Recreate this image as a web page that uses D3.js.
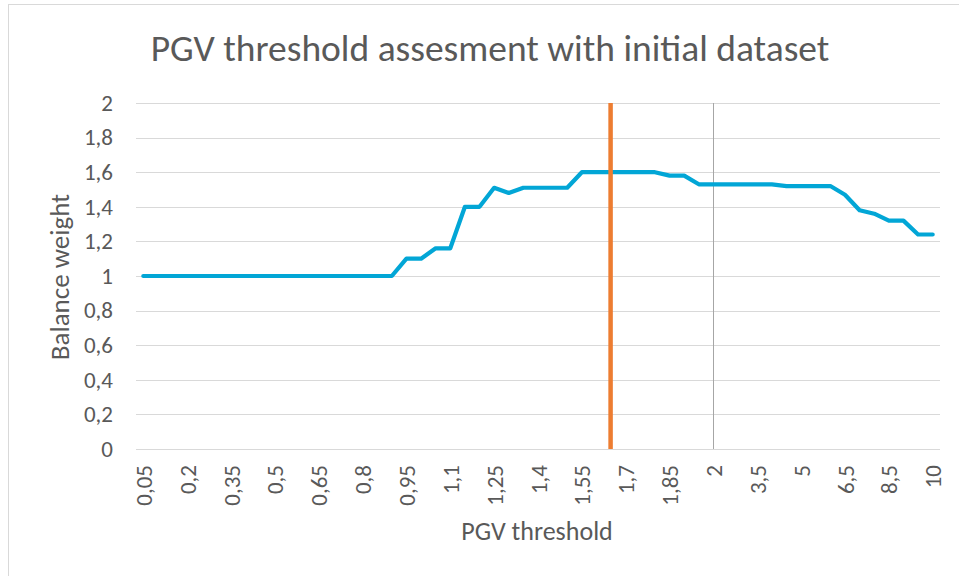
<!DOCTYPE html>
<html>
<head>
<meta charset="utf-8">
<script src="https://cdn.jsdelivr.net/npm/d3@7"></script>
<style>
  html, body { margin: 0; padding: 0; background: #fff; }
  svg { display: block; }
  text { font-family: Calibri, Carlito, Lato, "Open Sans", sans-serif; fill: #595959; }
</style>
</head>
<body>
<svg id="chart" width="959" height="576"></svg>
<script>
// PGV thresholds (categorical axis)
const thresholds = [
  0.05, 0.1, 0.15, 0.2, 0.25, 0.3, 0.35, 0.4, 0.45, 0.5,
  0.55, 0.6, 0.65, 0.7, 0.75, 0.8, 0.85, 0.9, 0.95, 1.0,
  1.05, 1.1, 1.15, 1.2, 1.25, 1.3, 1.35, 1.4, 1.45, 1.5,
  1.55, 1.6, 1.65, 1.7, 1.75, 1.8, 1.85, 1.9, 1.95, 2,
  2.5, 3, 3.5, 4, 4.5, 5, 5.5, 6, 6.5, 7,
  8, 8.5, 9, 9.5, 10
];
// Balance weight for each threshold
const balanceWeight = [
  1.00, 1.00, 1.00, 1.00, 1.00, 1.00, 1.00, 1.00, 1.00, 1.00,
  1.00, 1.00, 1.00, 1.00, 1.00, 1.00, 1.00, 1.00, 1.10, 1.10,
  1.16, 1.16, 1.40, 1.40, 1.51, 1.48, 1.51, 1.51, 1.51, 1.51,
  1.60, 1.60, 1.60, 1.60, 1.60, 1.60, 1.58, 1.58, 1.53, 1.53,
  1.53, 1.53, 1.53, 1.53, 1.52, 1.52, 1.52, 1.52, 1.47, 1.38,
  1.36, 1.32, 1.32, 1.24, 1.24
];
const yTicks = [0, 0.2, 0.4, 0.6, 0.8, 1, 1.2, 1.4, 1.6, 1.8, 2];
const xLabelEvery = 3;
// Reference markers on the threshold axis
const selectedThreshold = 1.65;
const referenceThreshold = 2;

const title = "PGV threshold assesment with initial dataset";
const xTitle = "PGV threshold";
const yTitle = "Balance weight";

const comma = v => String(v).replace(".", ",");
const FONT = "Calibri, Carlito, Lato, 'Open Sans', sans-serif";

const svg = d3.select("#chart");
const plot = { left: 136, right: 940, top: 103, bottom: 449 };

// Outer chart frame
svg.append("rect")
  .attr("x", 8.5).attr("y", 4.5)
  .attr("width", 1000).attr("height", 1000)
  .attr("fill", "none").attr("stroke", "#d9d9d9").attr("stroke-width", 1);

const x = d3.scalePoint()
  .domain(thresholds)
  .range([plot.left, plot.right])
  .padding(0.5);

const y = d3.scaleLinear()
  .domain([0, 2])
  .range([plot.bottom, plot.top]);

// Horizontal gridlines
svg.append("g")
  .selectAll("line")
  .data(yTicks)
  .join("line")
  .attr("x1", plot.left).attr("x2", plot.right)
  .attr("y1", d => Math.round(y(d)) + 0.5).attr("y2", d => Math.round(y(d)) + 0.5)
  .attr("stroke", "#d9d9d9").attr("stroke-width", 1);

// Y axis labels
const yAxis = d3.axisLeft(y).tickValues(yTicks).tickFormat(comma).tickSize(0).tickPadding(0);
const gy = svg.append("g").attr("transform", `translate(${113},0)`).call(yAxis);
gy.attr("font-size", null).attr("font-family", null);
gy.select(".domain").remove();
gy.selectAll("text")
  .style("font-size", "23px")
  .style("fill", "#595959")
  .style("font-family", FONT);

// X axis labels (rotated)
const xAxis = d3.axisBottom(x)
  .tickValues(thresholds.filter((d, i) => i % xLabelEvery === 0))
  .tickFormat(comma).tickSize(0).tickPadding(0);
const gx = svg.append("g").attr("transform", `translate(0,${465})`).call(xAxis);
gx.attr("font-size", null).attr("font-family", null);
gx.select(".domain").remove();
gx.selectAll("text")
  .style("font-size", "23px")
  .style("fill", "#595959")
  .style("font-family", FONT)
  .attr("transform", "rotate(-90)")
  .attr("text-anchor", "end")
  .attr("x", 0).attr("y", 0).attr("dy", "0.35em");

// Reference threshold (thin gray)
svg.append("line")
  .attr("x1", Math.round(x(referenceThreshold)) + 0.5).attr("x2", Math.round(x(referenceThreshold)) + 0.5)
  .attr("y1", y(2)).attr("y2", y(0))
  .attr("stroke", "#a6a6a6").attr("stroke-width", 1);

// Balance weight series
const line = d3.line()
  .x((d, i) => x(thresholds[i]))
  .y(d => y(d));
svg.append("path")
  .datum(balanceWeight)
  .attr("d", line)
  .attr("fill", "none")
  .attr("stroke", "#02a6d6")
  .attr("stroke-width", 4.2)
  .attr("stroke-linejoin", "round")
  .attr("stroke-linecap", "round");

// Selected threshold (orange)
svg.append("line")
  .attr("x1", x(selectedThreshold) - 0.5).attr("x2", x(selectedThreshold) - 0.5)
  .attr("y1", y(2)).attr("y2", y(0))
  .attr("stroke", "#ed7d31").attr("stroke-width", 4.5);

// Titles
svg.append("text")
  .attr("x", 490).attr("y", 61)
  .attr("text-anchor", "middle")
  .style("font-size", "37.5px")
  .style("font-weight", 300)
  .text(title);

svg.append("text")
  .attr("x", 537).attr("y", 540)
  .attr("text-anchor", "middle")
  .style("font-size", "26px")
  .text(xTitle);

svg.append("text")
  .attr("transform", `translate(${69},${277}) rotate(-90)`)
  .attr("text-anchor", "middle")
  .style("font-size", "27px")
  .text(yTitle);
</script>
</body>
</html>
